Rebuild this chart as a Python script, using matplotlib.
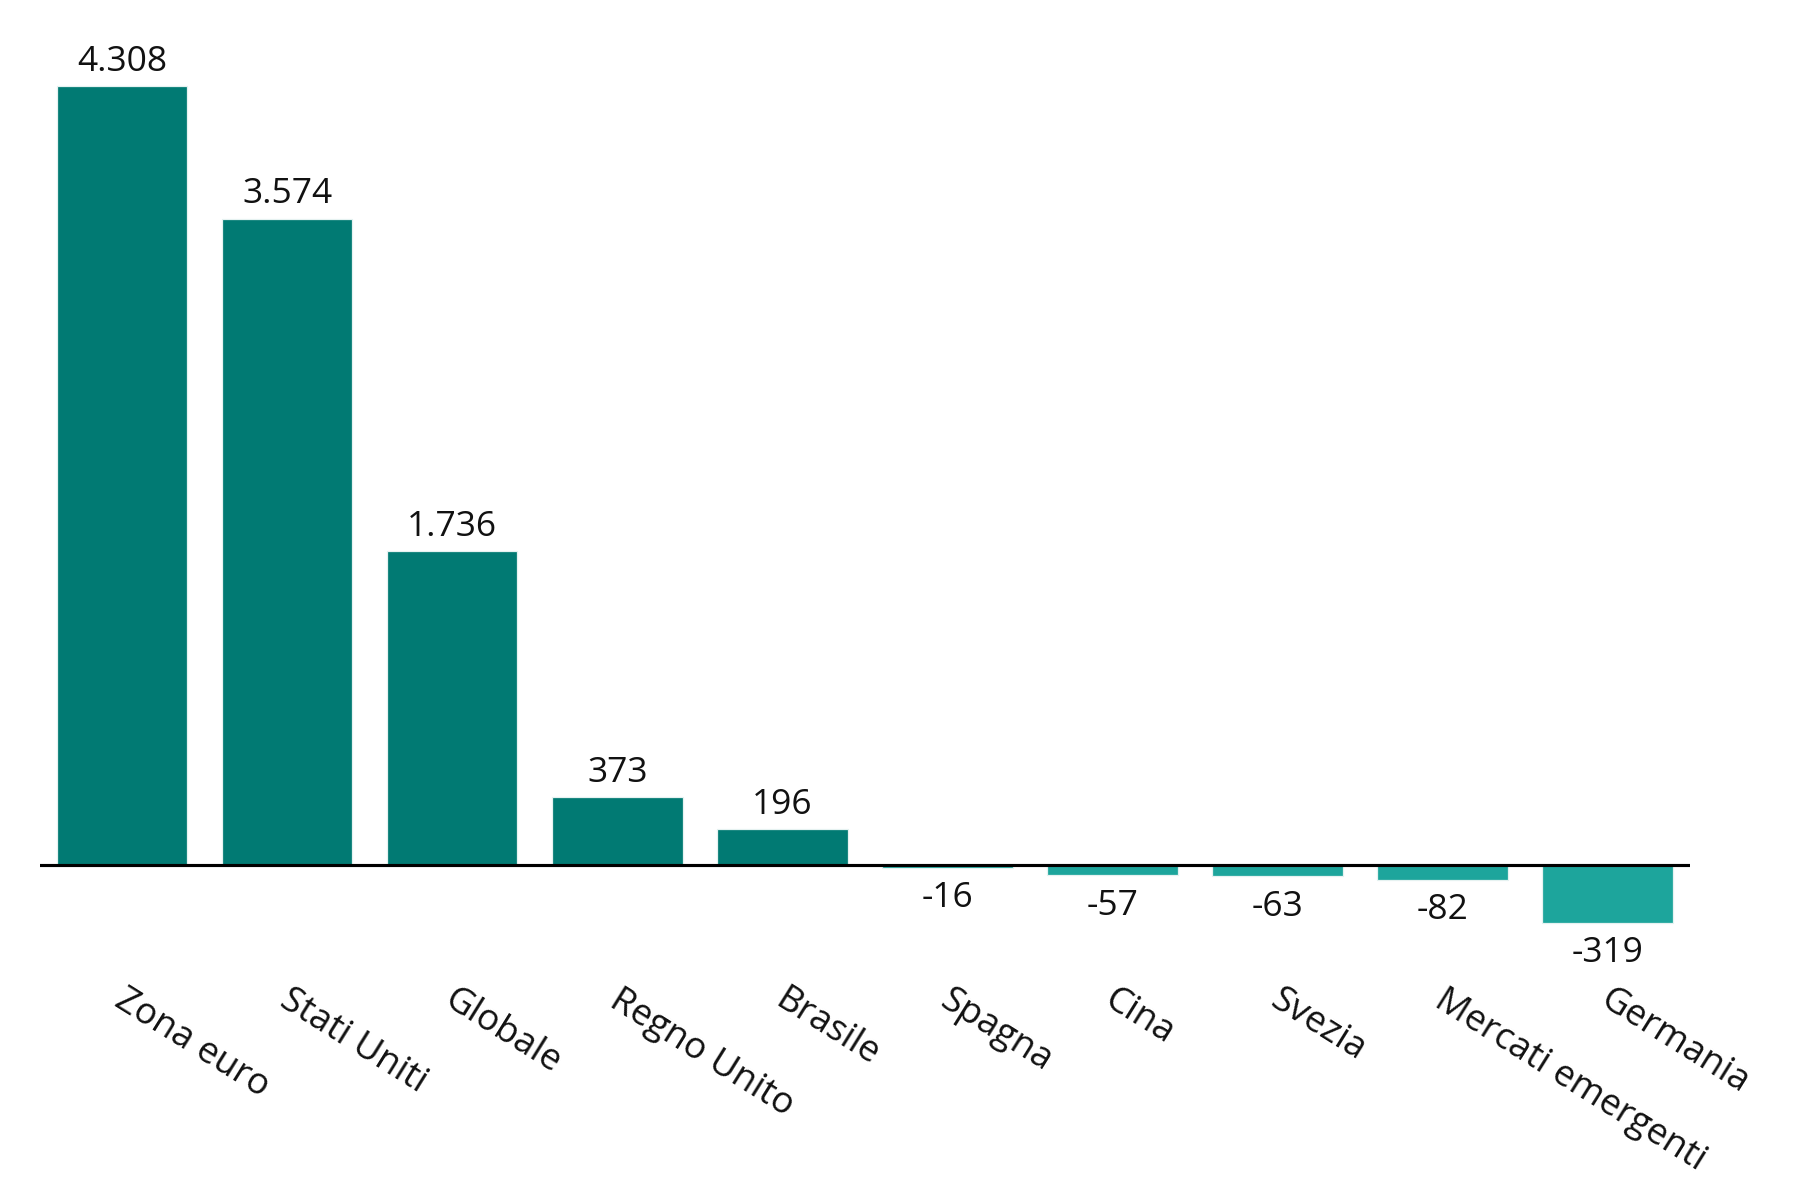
import matplotlib.pyplot as plt
import matplotlib.transforms as mtransforms

# Dati
paesi = ['Zona euro', 'Stati Uniti', 'Globale', 'Regno Unito', 'Brasile',
         'Spagna', 'Cina', 'Svezia', 'Mercati emergenti', 'Germania']
valori = [4308, 3574, 1736, 373, 196, -16, -57, -63, -82, -319]

col_pos = '#017A73'
col_neg = '#1DA59C'

plt.rcParams['font.family'] = ['Open Sans', 'DejaVu Sans']

fig = plt.figure(figsize=(12, 8), dpi=150)
ax = fig.add_axes([0.022, 0.219, 0.917, 0.7535])

x = list(range(len(paesi)))
colori = [col_pos if v >= 0 else col_neg for v in valori]
ax.bar(x, valori, width=0.79, color=colori, edgecolor='#E6F2F1', linewidth=0.6, zorder=2)
ax.axhline(0, color='black', linewidth=1.5, zorder=3)

ax.set_xlim(-0.5, 9.5)
ax.set_ylim(-400, 4600)
ax.axis('off')


def fmt(v):
    return f'{v:,}'.replace(',', '.')


for xi, v in zip(x, valori):
    if v >= 0:
        ax.annotate(fmt(v), (xi, v), xytext=(0, 3.5), textcoords='offset points',
                    ha='center', va='bottom', fontsize=17, color='#111111')
    else:
        ax.annotate(fmt(v), (xi, v), xytext=(0, -6.5), textcoords='offset points',
                    ha='center', va='top', fontsize=17, color='#111111')

trans = mtransforms.blended_transform_factory(ax.transData, ax.transAxes)
for xi, nome in zip(x, paesi):
    ax.text(xi + 0.03, -0.05, nome, transform=trans, rotation=-32,
            rotation_mode='anchor', ha='left', va='top', fontsize=17.5,
            color='#111111')

plt.savefig('out.png', dpi=150)
